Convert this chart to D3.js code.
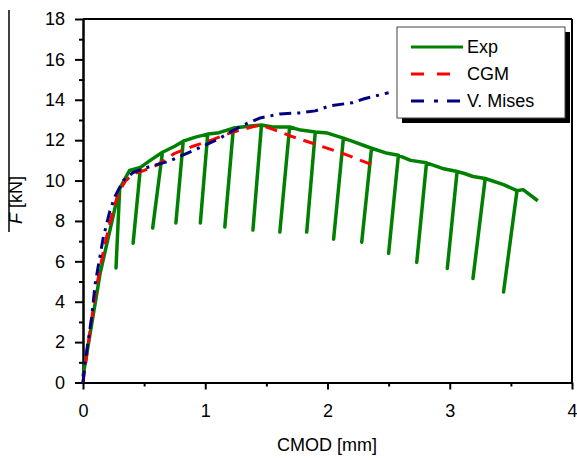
<!DOCTYPE html>
<html>
<head>
<meta charset="utf-8">
<script src="https://cdn.jsdelivr.net/npm/d3@7"></script>
<style>
  body { margin: 0; background: #fff; }
  svg text { font-family: "Liberation Sans", Arial, sans-serif; }
</style>
</head>
<body>
<svg id="chart"></svg>
<script>
// experimental curve (envelope with unloading branches), CMOD [mm] / F [kN]
const expX = [0, 0.14, 0.29, 0.30, 0.27, 0.30, 0.38, 0.47, 0.41, 0.47, 0.55, 0.65, 0.57, 0.65, 0.75, 0.82, 0.76, 0.82, 0.92, 1.02, 0.96, 1.02, 1.10, 1.23, 1.16, 1.23, 1.37, 1.46, 1.39, 1.46, 1.55, 1.69, 1.61, 1.69, 1.78, 1.90, 1.83, 1.90, 2.00, 2.13, 2.05, 2.13, 2.20, 2.36, 2.28, 2.36, 2.49, 2.58, 2.50, 2.58, 2.68, 2.81, 2.73, 2.81, 2.94, 3.06, 2.98, 3.06, 3.12, 3.19, 3.29, 3.19, 3.29, 3.44, 3.55, 3.44, 3.55, 3.60, 3.72];
const expF = [0.3, 5.4, 9.4, 9.6, 5.67, 9.6, 10.5, 10.65, 6.9, 10.65, 11.0, 11.4, 7.65, 11.4, 11.7, 11.95, 7.9, 11.95, 12.15, 12.3, 7.9, 12.3, 12.35, 12.6, 7.7, 12.6, 12.7, 12.75, 7.55, 12.75, 12.65, 12.65, 7.45, 12.65, 12.5, 12.4, 7.45, 12.4, 12.35, 12.1, 7.1, 12.1, 11.95, 11.6, 6.95, 11.6, 11.35, 11.25, 6.4, 11.25, 11.0, 10.88, 5.95, 10.88, 10.6, 10.45, 5.65, 10.45, 10.35, 10.2, 10.1, 5.15, 10.1, 9.8, 9.5, 4.48, 9.5, 9.55, 9.0];

const cgmX = [0, 0.05, 0.10, 0.17, 0.22, 0.26, 0.30, 0.35, 0.42, 0.50, 0.60, 0.75, 0.90, 1.05, 1.20, 1.35, 1.45, 1.55, 1.70, 1.90, 2.10, 2.25, 2.40];
const cgmF = [0, 2.2, 4.4, 6.6, 7.9, 8.8, 9.5, 10.0, 10.35, 10.5, 10.75, 11.35, 11.7, 12.0, 12.35, 12.6, 12.75, 12.55, 12.2, 11.8, 11.4, 11.05, 10.7];

const misesX = [0, 0.016, 0.07, 0.10, 0.165, 0.22, 0.26, 0.33, 0.41, 0.55, 0.70, 0.85, 1.00, 1.12, 1.31, 1.45, 1.61, 1.77, 1.90, 2.02, 2.20, 2.30, 2.50];
const misesF = [0, 0.96, 3.2, 4.9, 7.15, 8.5, 9.2, 10.0, 10.4, 10.7, 10.95, 11.35, 11.75, 12.1, 12.75, 13.1, 13.3, 13.35, 13.45, 13.7, 13.85, 14.05, 14.35];

const xTicks = [0, 1, 2, 3, 4];
const xMinor = [0.5, 1.5, 2.5, 3.5];
const yTicks = [0, 2, 4, 6, 8, 10, 12, 14, 16, 18];
const yMinor = [1, 3, 5, 7, 9, 11, 13, 15, 17];

const seriesNames = ["Exp", "CGM", "V. Mises"];
const seriesColors = ["#008000", "#ff0000", "#000080"];
const seriesDash = [null, "12,8", "12,6,3,6"];
const seriesWidth = [3.5, 3, 3];

const width = 577, height = 460;
const svg = d3.select("#chart").attr("width", width).attr("height", height);

const x = d3.scaleLinear().domain([0, 4]).range([83, 572]);
const y = d3.scaleLinear().domain([0, 18]).range([382.5, 19]);

// frame (top and right)
svg.append("line").attr("x1", 83).attr("x2", 572).attr("y1", 19).attr("y2", 19)
    .attr("stroke", "#000").attr("stroke-width", 2);
svg.append("line").attr("x1", 572).attr("x2", 572).attr("y1", 19).attr("y2", 382.5)
    .attr("stroke", "#000").attr("stroke-width", 2);

// axes
svg.append("g").attr("transform", "translate(0,382.5)")
    .call(d3.axisBottom(x).tickValues(xTicks).tickFormat(d3.format("d"))
        .tickSize(7).tickSizeOuter(0).tickPadding(15));
svg.append("g").attr("transform", "translate(0,382.5)")
    .call(d3.axisBottom(x).tickValues(xMinor).tickSize(4).tickSizeOuter(0).tickFormat(""));
svg.append("g").attr("transform", "translate(83,0)")
    .call(d3.axisLeft(y).tickValues(yTicks).tickFormat(d3.format("d"))
        .tickSize(8).tickSizeOuter(0).tickPadding(10));
svg.append("g").attr("transform", "translate(83,0)")
    .call(d3.axisLeft(y).tickValues(yMinor).tickSize(4).tickSizeOuter(0).tickFormat(""));

svg.selectAll(".domain").attr("stroke", "#000").attr("stroke-width", 2);
svg.selectAll(".tick line").attr("stroke", "#000").attr("stroke-width", 2);
svg.selectAll(".tick text").attr("font-size", 18).attr("fill", "#000")
    .attr("font-family", "Liberation Sans, Arial, sans-serif");

// axis titles
svg.append("text").attr("x", 327).attr("y", 451).attr("text-anchor", "middle")
    .attr("font-size", 18).text("CMOD [mm]");

const yTitle = svg.append("text")
    .attr("transform", "translate(22,200) rotate(-90)")
    .attr("text-anchor", "middle").attr("font-size", 18);
yTitle.append("tspan").attr("font-style", "italic").text("F");
yTitle.append("tspan").text(" [kN]");
svg.append("line").attr("x1", 9).attr("x2", 9).attr("y1", 10).attr("y2", 232)
    .attr("stroke", "#000").attr("stroke-width", 1.5);

// curves
const line = d3.line().x(d => x(d[0])).y(d => y(d[1]));
const series = [
    d3.zip(expX, expF),
    d3.zip(cgmX, cgmF),
    d3.zip(misesX, misesF)
];
series.forEach((pts, i) => {
    svg.append("path")
        .datum(pts)
        .attr("d", line)
        .attr("fill", "none")
        .attr("stroke", seriesColors[i])
        .attr("stroke-width", seriesWidth[i])
        .attr("stroke-linejoin", "round")
        .attr("stroke-dasharray", seriesDash[i]);
});

// legend
const lg = svg.append("g");
lg.append("rect").attr("x", 402).attr("y", 32).attr("width", 168).attr("height", 91).attr("fill", "#000");
lg.append("rect").attr("x", 397).attr("y", 27).attr("width", 168).attr("height", 91)
    .attr("fill", "#fff").attr("stroke", "#444").attr("stroke-width", 1);
seriesNames.forEach((name, i) => {
    const ly = 47 + i * 27;
    lg.append("line").attr("x1", 411).attr("x2", 463).attr("y1", ly).attr("y2", ly)
        .attr("stroke", seriesColors[i]).attr("stroke-width", 3)
        .attr("stroke-dasharray", i === 0 ? null : (i === 1 ? "13,13" : "13,10,4,9"));
    lg.append("text").attr("x", 467).attr("y", ly + 6).attr("font-size", 18).text(name);
});
</script>
</body>
</html>
